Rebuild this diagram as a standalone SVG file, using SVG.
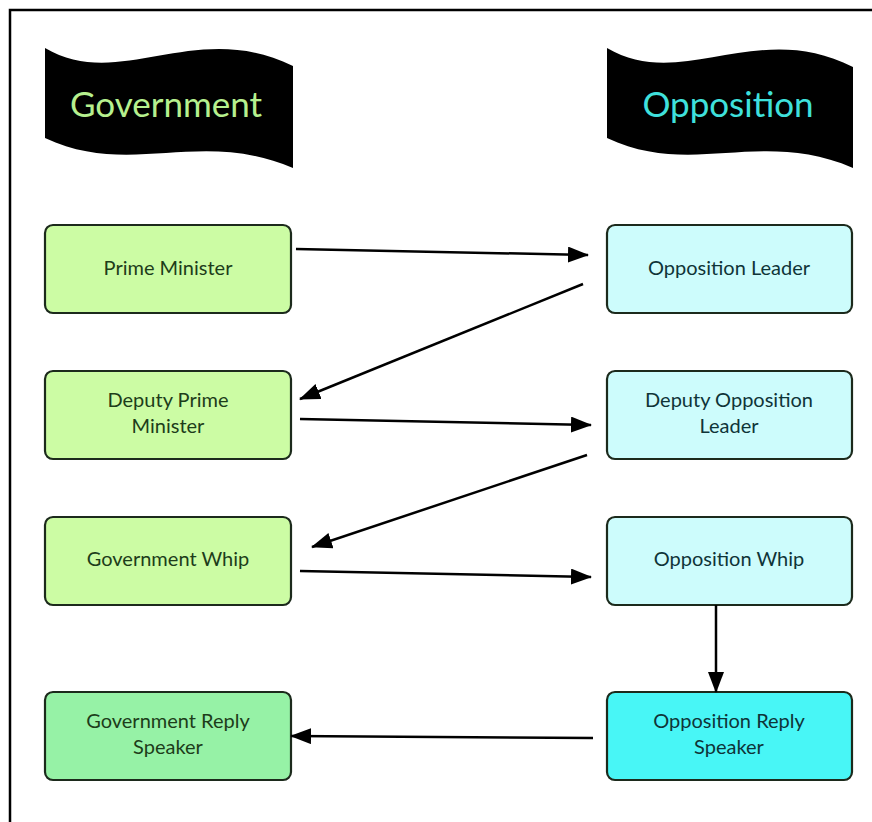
<svg xmlns="http://www.w3.org/2000/svg" width="872" height="822" viewBox="0 0 872 822">
<style>
.flag{fill:#000}
.ft{font-family:Lato,"Open Sans",sans-serif;font-size:35px;text-anchor:middle}
.box{stroke:#1c2a1c;stroke-width:2.2}
.g{fill:#ccfca4}
.g2{fill:#96f2a6}
.o{fill:#cdfcfc}
.o2{fill:#48f6f6}
.t{font-family:Lato,"Open Sans",sans-serif;font-size:20px;text-anchor:middle}
.tg{fill:#1d3d1a}
.to{fill:#0f3438}
.c{stroke:#000;stroke-width:2.5;fill:none;marker-end:url(#ah)}
</style>
<defs>
<marker id="ah" markerUnits="userSpaceOnUse" markerWidth="22" markerHeight="16" refX="20" refY="8" orient="auto">
<path d="M0,0 L21,8 L0,16 Z" fill="#000"/>
</marker>
</defs>
<rect width="872" height="822" fill="#fff"/>
<path d="M10,822 L10,10 L872,10" fill="none" stroke="#000" stroke-width="2.5"/>
<g id="flag-government">
<path class="flag" d="M45,48 C120,92 195,18 293,66 L293,168 C200,128 130,178 45,138 Z"/>
<text class="ft" x="166" y="117" fill="#b6f08e">Government</text>
</g>
<g id="flag-opposition">
<path class="flag" d="M607,48 C682,92 757,18 853,67 L853,168 C760,128 692,178 607,138 Z"/>
<text class="ft" x="728" y="117" fill="#3fe0dc">Opposition</text>
</g>
<g id="prime-minister">
<rect class="box g" x="45" y="225" width="246" height="88" rx="8"/>
<text class="t tg" x="168" y="275">Prime Minister</text>
</g>
<g id="opposition-leader">
<rect class="box o" x="607" y="225" width="245" height="88" rx="8"/>
<text class="t to" x="729" y="275">Opposition Leader</text>
</g>
<g id="deputy-prime-minister">
<rect class="box g" x="45" y="371" width="246" height="88" rx="8"/>
<text class="t tg" x="168" y="407">Deputy Prime</text>
<text class="t tg" x="168" y="433">Minister</text>
</g>
<g id="deputy-opposition-leader">
<rect class="box o" x="607" y="371" width="245" height="88" rx="8"/>
<text class="t to" x="729" y="407">Deputy Opposition</text>
<text class="t to" x="729" y="433">Leader</text>
</g>
<g id="government-whip">
<rect class="box g" x="45" y="517" width="246" height="88" rx="8"/>
<text class="t tg" x="168" y="566">Government Whip</text>
</g>
<g id="opposition-whip">
<rect class="box o" x="607" y="517" width="245" height="88" rx="8"/>
<text class="t to" x="729" y="566">Opposition Whip</text>
</g>
<g id="government-reply-speaker">
<rect class="box g2" x="45" y="692" width="246" height="88" rx="8"/>
<text class="t tg" x="168" y="728">Government Reply</text>
<text class="t tg" x="168" y="754">Speaker</text>
</g>
<g id="opposition-reply-speaker">
<rect class="box o2" x="607" y="692" width="245" height="88" rx="8"/>
<text class="t to" x="729" y="728">Opposition Reply</text>
<text class="t to" x="729" y="754">Speaker</text>
</g>
<g id="connectors">
<line class="c" x1="296" y1="249" x2="588" y2="255"/>
<line class="c" x1="583" y1="284" x2="300" y2="399"/>
<line class="c" x1="300" y1="419" x2="591" y2="425"/>
<line class="c" x1="587" y1="455" x2="312" y2="547"/>
<line class="c" x1="300" y1="571" x2="591" y2="577"/>
<line class="c" x1="716" y1="605" x2="716" y2="692"/>
<line class="c" x1="593" y1="738" x2="291" y2="736"/>
</g>
</svg>
